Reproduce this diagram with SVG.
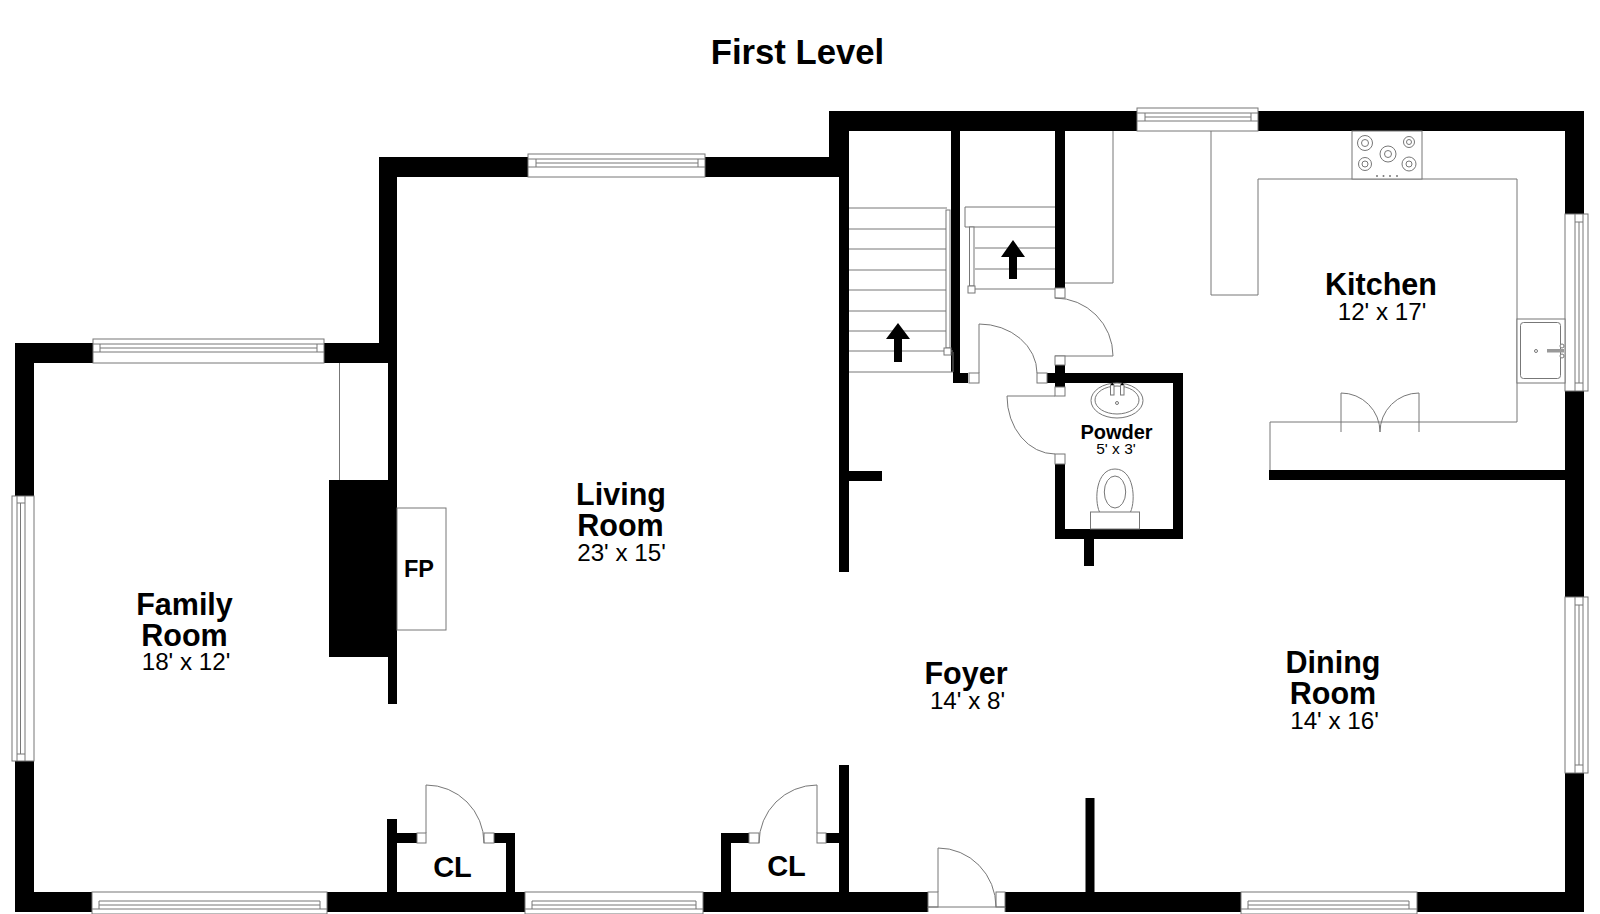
<svg xmlns="http://www.w3.org/2000/svg" width="1600" height="914" viewBox="0 0 1600 914">
<style>
.w{fill:#000;stroke:none}
.l{fill:none;stroke:#777;stroke-width:1}
.d{fill:#fff;stroke:#777;stroke-width:1}
.t{font-family:"Liberation Sans",Arial,sans-serif;text-anchor:middle;fill:#000}
.n{font-weight:bold;font-size:30.5px}
.s{font-size:24.2px}
</style>
<rect width="1600" height="914" fill="#fff"/>
<text class="t" x="797.5" y="64" font-weight="bold" font-size="34.7">First Level</text>
<g id="walls">
<path class="w" d="M829 111H1137V131H1065V288H1055V131H960V373H968V383H953V372H951V131H849V572H839V177H397V363H388V343H379V157H829Z"/>
<path class="w" d="M1258 111H1584V214H1565V131H1258Z"/>
<path class="w" d="M1565 391H1584V597H1565V480H1269V470H1565Z"/>
<path class="w" d="M1565 773H1584V912H1417V892H1565Z"/>
<path class="w" d="M15 343H93V363H34V496H15Z"/>
<path class="w" d="M324 343H388V363H324Z"/>
<path class="w" d="M15 761H34V892H92V912H15Z"/>
<rect class="w" x="327" y="892" width="198" height="20"/>
<rect class="w" x="703" y="892" width="225" height="20"/>
<rect class="w" x="1005" y="892" width="236" height="20"/>
<rect class="w" x="849" y="471" width="33" height="10"/>
<path class="w" d="M329 480H388V363H397V704H388V657H329Z"/>
<rect class="w" x="1085.500" y="798" width="9" height="94"/>
<rect class="w" x="839" y="765" width="10" height="127"/>
</g>
<g id="powder-walls">
<path class="w" d="M1047 373H1055V365H1065V373H1183V539H1094V566H1084V539H1055V464H1065V529H1173V383H1065V387H1055V383H1047Z"/>
</g>
<g id="closet-walls">
<path class="w" d="M387 819H397V833H417V843H397V892H387Z"/>
<path class="w" d="M494 833H515V892H506V843H494Z"/>
<path class="w" d="M721 833H749V843H731V892H721Z"/>
<rect class="w" x="826" y="833" width="13" height="10"/>
</g>
<g id="doors">
<rect class="d" x="969" y="373" width="10" height="10"/>
<path class="l" d="M979 373V324A58 49 0 0 1 1037 373"/>
<rect class="d" x="1037" y="373" width="10" height="10"/>
<rect class="d" x="1055" y="288" width="10" height="10"/>
<path class="l" d="M1055 298A58 58 0 0 1 1113 356H1055"/>
<rect class="d" x="1055" y="356" width="10" height="9"/>
<rect class="d" x="1055" y="387" width="10" height="9"/>
<path class="l" d="M1055 396H1007A48 58 0 0 0 1055 454"/>
<rect class="d" x="1055" y="454" width="10" height="10"/>
<rect class="d" x="417" y="833" width="9" height="10"/>
<rect class="d" x="484" y="833" width="10" height="10"/>
<path class="l" d="M426 833V785A58 58 0 0 1 484 843"/>
<rect class="d" x="749" y="833" width="10" height="10"/>
<rect class="d" x="817" y="833" width="9" height="10"/>
<path class="l" d="M817 833V785A58 58 0 0 0 759 843"/>
<rect class="d" x="928" y="892" width="10" height="15"/>
<rect class="d" x="996" y="892" width="9" height="15"/>
<path class="l" d="M938 892V848A58 59 0 0 1 996 907M928 907H1005M928 907V912M1005 907V912"/>
</g>
<g id="windows">
<g id="window-kitchen-top">
<rect class="d" x="1137" y="108" width="121" height="23"/>
<path class="l" d="M1137 113H1258M1137 121H1258M1145 113V121M1251 113V121M1145 117H1251"/>
</g>
<g id="window-living-top">
<rect class="d" x="528" y="154" width="177" height="23"/>
<path class="l" d="M528 159H705M528 167H705M536 159V167M698 159V167M536 163H698"/>
</g>
<g id="window-family-top">
<rect class="d" x="93" y="339" width="231" height="24"/>
<path class="l" d="M93 344H324M93 352H324M100 344V352M317 344V352M100 348H317"/>
</g>
<g id="window-family-left">
<rect class="d" x="12" y="496" width="22" height="265"/>
<path class="l" d="M17 496V761M25 496V761M17 503H25M17 754H25M20.500 503V754"/>
</g>
<g id="window-kitchen-right">
<rect class="d" x="1565" y="214" width="23" height="177"/>
<path class="l" d="M1575 214V391M1583 214V391M1575 222H1583M1575 383H1583M1579 222V383"/>
</g>
<g id="window-dining-right">
<rect class="d" x="1565" y="597" width="23" height="176"/>
<path class="l" d="M1575 597V773M1583 597V773M1575 605H1583M1575 765H1583M1579 605V765"/>
</g>
<g id="window-family-bottom">
<rect class="d" x="92" y="892" width="235" height="22"/>
<path class="l" d="M99 901H320M99 905H320M92 909H327M99 901V909M320 901V909"/>
</g>
<g id="window-living-bottom">
<rect class="d" x="525" y="892" width="178" height="22"/>
<path class="l" d="M532 901H696M532 905H696M525 909H703M532 901V909M696 901V909"/>
</g>
<g id="window-dining-bottom">
<rect class="d" x="1241" y="892" width="176" height="22"/>
<path class="l" d="M1248 901H1409M1248 905H1409M1241 909H1417M1248 901V909M1409 901V909"/>
</g>
</g>
<g id="stairs">
<path class="l" d="M849 208H947M849 229H946M849 249H946M849 270H946M849 290H946M849 311H946M849 331H946M849 351H953M849 372H953M953 352V372"/>
<rect class="d" x="946" y="210" width="4" height="138"/>
<rect class="d" x="944" y="348" width="7" height="7"/>
<path class="w" d="M898 323L910 339H902V362H894V339H886Z"/>
<path class="l" d="M965 207H1055M965 227H1055M965 207V227M975 248H1055M975 269H1055M975 289H1055"/>
<rect class="d" x="969.500" y="227" width="4.500" height="59"/>
<rect class="d" x="968" y="286" width="7" height="7"/>
<path class="w" d="M1013 240L1025 257H1017V279H1009V257H1001Z"/>
</g>
<g id="kitchen-fixtures">
<path class="l" d="M1065 283H1113V131"/>
<path class="l" d="M1211 131V295H1258V179H1517V422H1270V470"/>
<path class="l" d="M1341 393V432M1341 393A39 39 0 0 1 1380 432A39 39 0 0 1 1419 393V432"/>
<rect class="d" x="1352" y="131" width="70" height="48"/>
<circle class="l" cx="1365" cy="143" r="7.500"/><circle class="l" cx="1365" cy="143" r="3.500"/>
<circle class="l" cx="1409" cy="142" r="5.500"/><circle class="l" cx="1409" cy="142" r="2.500"/>
<circle class="l" cx="1388" cy="154" r="8"/><circle class="l" cx="1388" cy="154" r="3.500"/>
<circle class="l" cx="1365" cy="164" r="6.500"/><circle class="l" cx="1365" cy="164" r="3"/>
<circle class="l" cx="1409" cy="164" r="7"/><circle class="l" cx="1409" cy="164" r="3"/>
<g fill="#777"><circle cx="1377" cy="176" r="1"/><circle cx="1383.500" cy="176" r="1"/><circle cx="1390" cy="176" r="1"/><circle cx="1397" cy="176" r="1"/></g>
<rect class="d" x="1517" y="319" width="48" height="64"/>
<rect class="l" x="1520.500" y="322.500" width="40" height="56" rx="3"/>
<circle class="l" cx="1536" cy="351" r="1.500"/>
<rect x="1547" y="349" width="17" height="3.500" fill="#999"/>
<circle class="d" cx="1562" cy="346" r="2"/><circle class="d" cx="1562" cy="356" r="2"/>
</g>
<g id="powder-fixtures">
<ellipse class="l" cx="1117" cy="400.500" rx="26" ry="17.500"/>
<ellipse class="l" cx="1117" cy="400" rx="22" ry="14"/>
<rect class="d" x="1110.500" y="385" width="3.500" height="10"/>
<rect class="d" x="1120.500" y="385" width="3.500" height="10"/>
<path class="w" d="M1110.500 385L1112.200 382.500L1114 385ZM1120.500 385L1122.200 382.500L1124 385Z"/>
<circle class="l" cx="1117" cy="403" r="1.500"/>
<path class="l" d="M1099.500 512C1094 500 1096 469 1115 469C1134 469 1136 500 1130.500 512"/>
<ellipse class="l" cx="1115" cy="492" rx="10.700" ry="16"/>
<rect class="l" x="1090.500" y="512" width="49" height="17"/>
</g>
<g id="fireplace">
<rect class="l" x="397" y="508" width="49" height="122"/>
<path class="l" d="M339.500 363V480"/>
<text class="t" x="419" y="577" font-weight="bold" font-size="23.500">FP</text>
</g>
<g id="room-family"><text class="t n" x="184.500" y="615">Family</text><text class="t n" x="184.500" y="646">Room</text><text class="t s" x="186" y="670">18' x 12'</text></g>
<g id="room-living"><text class="t n" x="621" y="505">Living</text><text class="t n" x="620.500" y="536">Room</text><text class="t s" x="621.500" y="561">23' x 15'</text></g>
<g id="room-kitchen"><text class="t n" x="1381" y="295">Kitchen</text><text class="t s" x="1382" y="320">12' x 17'</text></g>
<g id="room-powder"><text class="t" x="1116.500" y="438.500" font-weight="bold" font-size="20">Powder</text><text class="t" x="1116" y="454" font-size="15.500">5' x 3'</text></g>
<g id="room-foyer"><text class="t n" x="966" y="684">Foyer</text><text class="t s" x="967.500" y="709">14' x 8'</text></g>
<g id="room-dining"><text class="t n" x="1333" y="673">Dining</text><text class="t n" x="1333" y="704">Room</text><text class="t s" x="1334.500" y="729">14' x 16'</text></g>
<g id="closet-labels"><text class="t" x="452.500" y="877" font-weight="bold" font-size="29">CL</text><text class="t" x="786.500" y="876" font-weight="bold" font-size="29">CL</text></g>
</svg>
